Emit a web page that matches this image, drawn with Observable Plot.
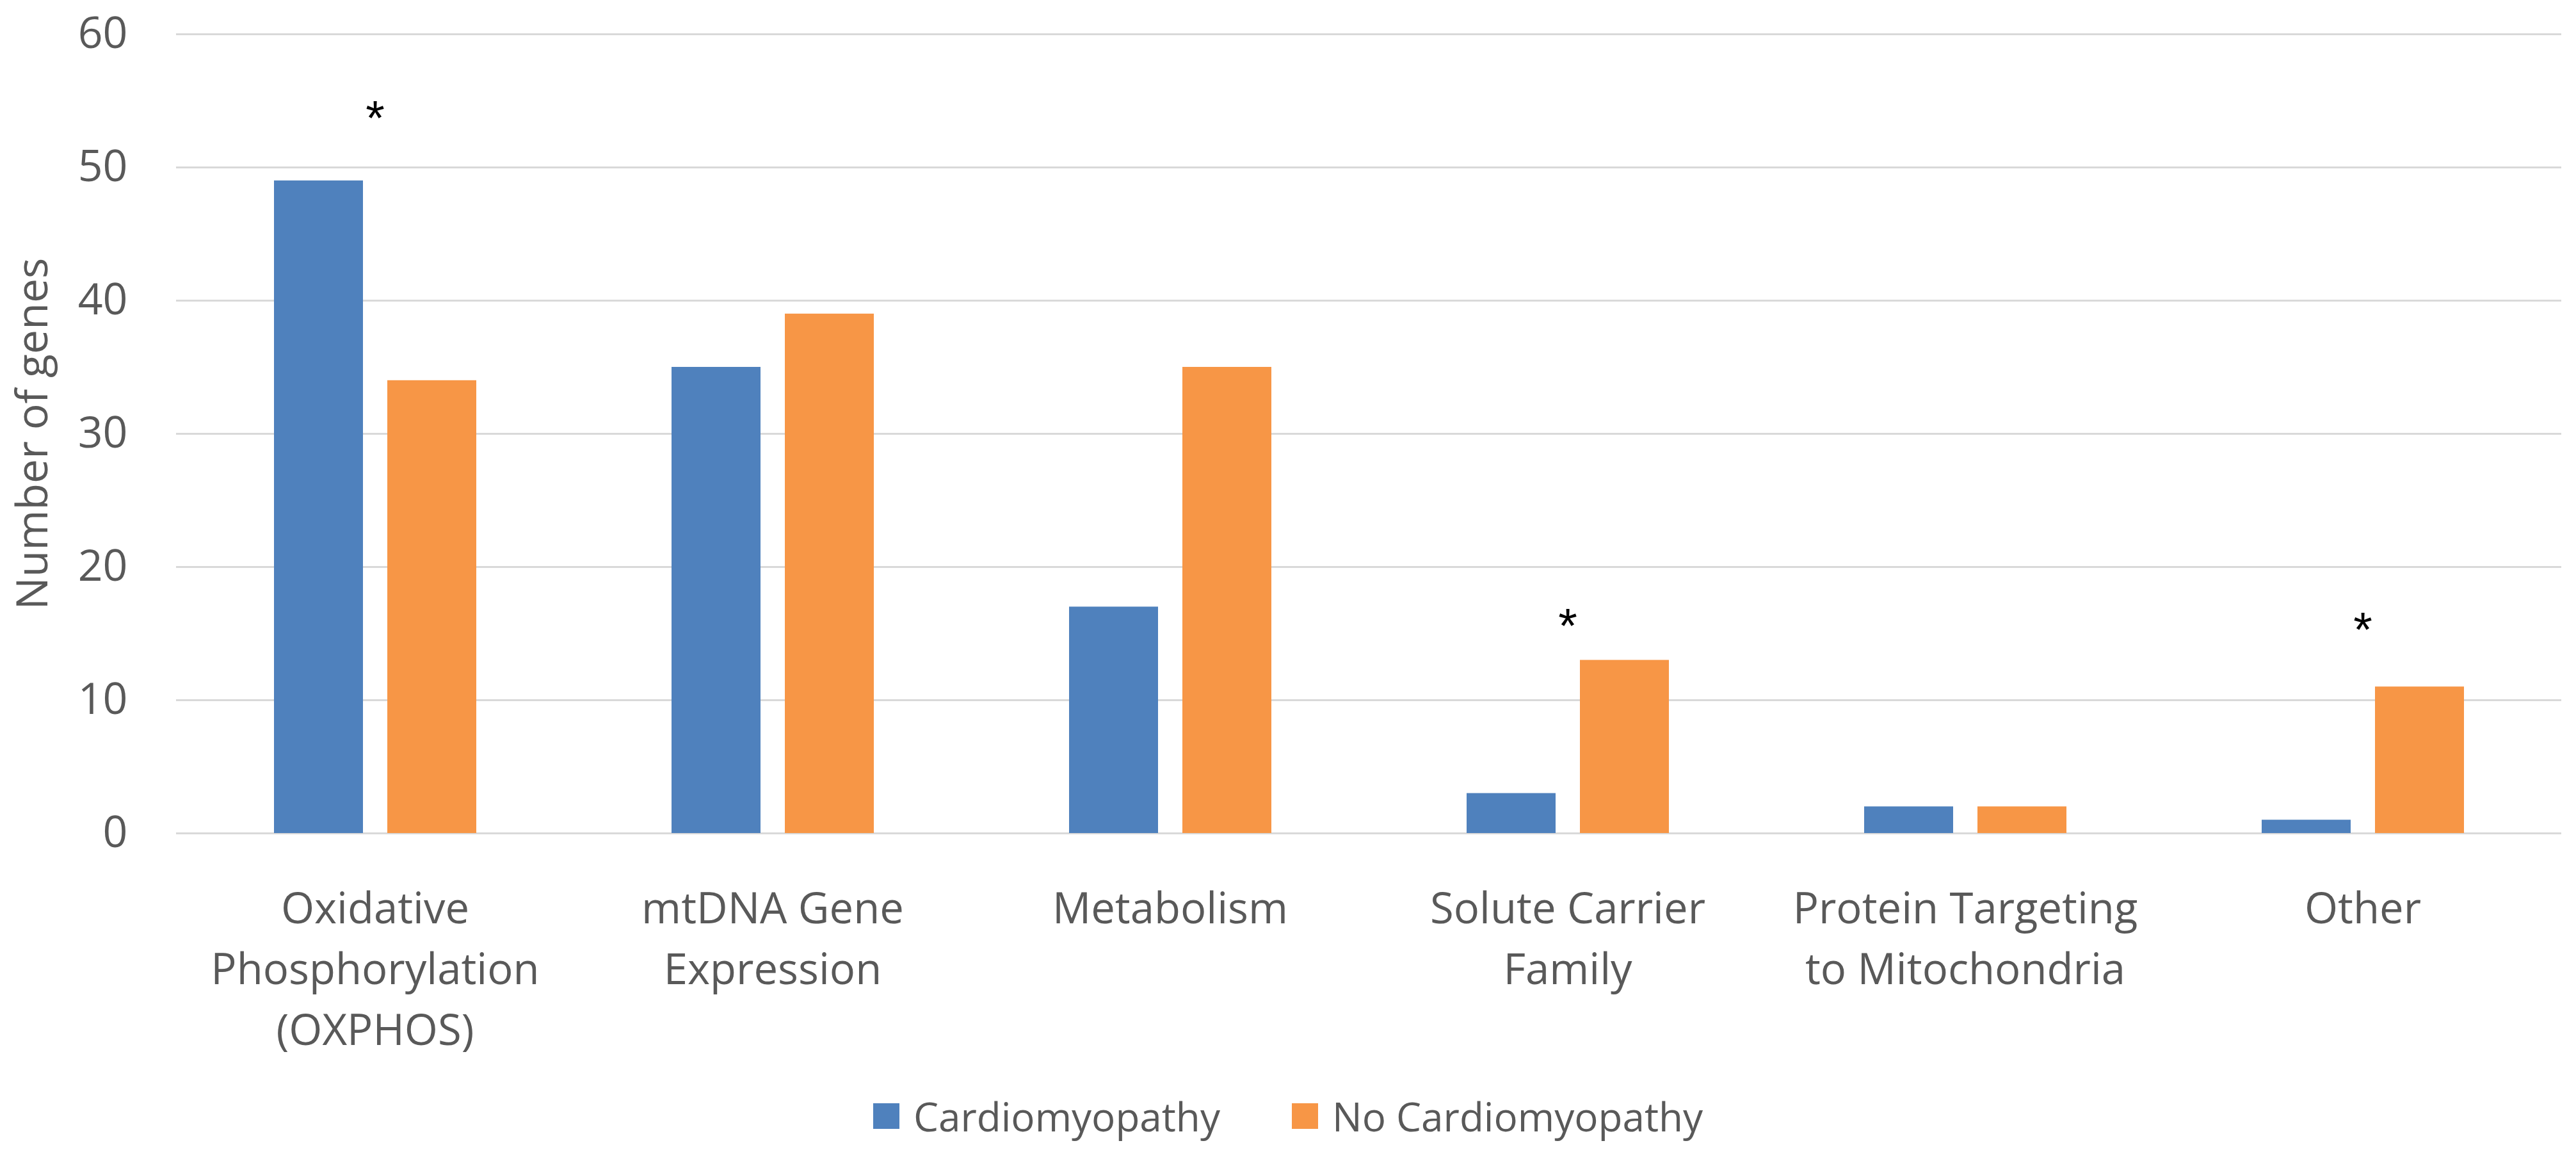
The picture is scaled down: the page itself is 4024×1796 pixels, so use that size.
<!DOCTYPE html>
<html>
<head>
<meta charset="utf-8">
<script src="https://cdn.jsdelivr.net/npm/d3@7"></script>
<script src="https://cdn.jsdelivr.net/npm/@observablehq/plot@0.6"></script>
<style>
  html, body { margin: 0; padding: 0; background: #fff; }
  #chart { width: 4024px; height: 1796px; overflow: hidden; }
  #legend { width: 4024px; height: 116px; box-sizing: border-box; padding-top: 10px;
            display: flex; justify-content: center; align-items: center; }
  #legend > div { display: flex !important; justify-content: center; align-items: center; margin: 0 !important; min-height: 0 !important; }
  #legend span { margin-right: 112px !important; display: inline-flex; align-items: center; }
  #legend span:last-child { margin-right: 0 !important; }
  #legend span svg { margin-right: 22px !important; }
</style>
</head>
<body>
<div id="chart"></div>
<script>
// ---- data ----
const categories = [
  "Oxidative\nPhosphorylation\n(OXPHOS)",
  "mtDNA Gene\nExpression",
  "Metabolism",
  "Solute Carrier\nFamily",
  "Protein Targeting\nto Mitochondria",
  "Other"
];
const series = ["Cardiomyopathy", "No Cardiomyopathy"];
const cardiomyopathy = [49, 35, 17, 3, 2, 1];
const noCardiomyopathy = [34, 39, 35, 13, 2, 11];
const yTicks = [0, 10, 20, 30, 40, 50, 60];
const starCategories = [categories[0], categories[3], categories[5]];
const starHeights = [54.4, 16.3, 16.0];
const colors = ["#4F81BD", "#F79646"];

const data = categories.flatMap((c, i) => [
  {category: c, series: series[0], value: cardiomyopathy[i]},
  {category: c, series: series[1], value: noCardiomyopathy[i]}
]);
const stars = starCategories.map((c, i) => ({category: c, y: starHeights[i]}));

const textColor = "#595959";
const font = "'Open Sans', sans-serif";

const plot = Plot.plot({
  width: 4024,
  height: 1680,
  marginTop: 53,
  marginBottom: 379,
  marginLeft: 274,
  marginRight: 23,
  style: {fontFamily: font, color: textColor, background: "#fff", overflow: "visible"},
  fx: {domain: categories, padding: 0, axis: null},
  x: {domain: series, paddingInner: 0.215, paddingOuter: 0.861, axis: null},
  y: {domain: [0, 60], ticks: yTicks, axis: null},
  color: {domain: series, range: colors},
  marks: [
    Plot.gridY(yTicks, {stroke: "#D9D9D9", strokeOpacity: 1, strokeWidth: 3}),
    Plot.barY(data, {fx: "category", x: "series", y: "value", fill: "series"}),
    Plot.text(stars, {fx: "category", y: "y", text: () => "*", fontSize: 76, fill: "#000",
                      fontFamily: "'Liberation Sans', sans-serif", dy: 16}),
    Plot.axisY({ticks: yTicks, tickSize: 0, tickPadding: 76, fontSize: 68, fill: textColor,
                label: "Number of genes", labelAnchor: "center", labelArrow: "none", labelOffset: 250}),
    Plot.axisFx({anchor: "bottom", tickSize: 0, tickPadding: 73, fontSize: 67, lineHeight: 1.42,
                 lineAnchor: "top", fill: textColor, label: null})
  ]
});

const chart = document.getElementById("chart");
chart.appendChild(plot);

const legendDiv = document.createElement("div");
legendDiv.id = "legend";
const lg = plot.legend("color", {
  legend: "swatches",
  swatchWidth: 41,
  swatchHeight: 40,
  style: {fontSize: "62px", fontFamily: font, color: textColor}
});
legendDiv.appendChild(lg);
chart.appendChild(legendDiv);
</script>
</body>
</html>
